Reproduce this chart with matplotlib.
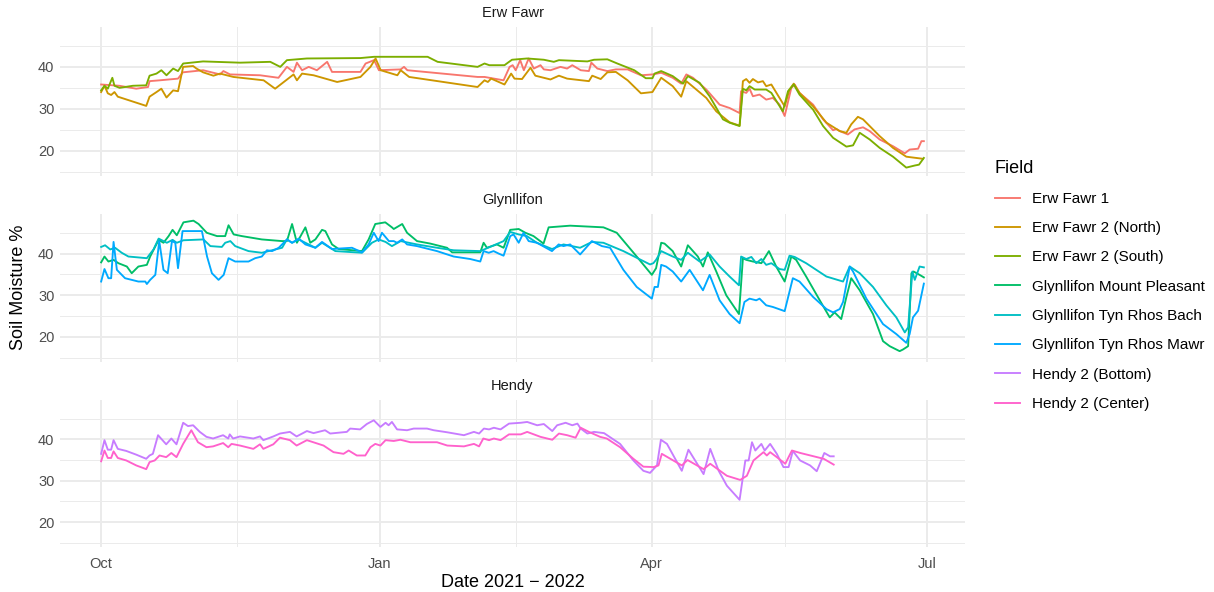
import numpy as np
import matplotlib
matplotlib.use('Agg')
import matplotlib.pyplot as plt
import matplotlib.dates as mdates
from datetime import datetime

# soil moisture readings: (days after 1 Oct 2021, moisture %)
erw_fawr_1 = [(0,35.8),(6,35.5),(11.6,34.8),(15.5,35.2),(16,36.6),(19.4,36.8),(25.4,37.2),(27,38.7),(33.7,39.2),(39.3,38.2),(40.4,39),(42.6,38.2),(52.5,38),(58.6,37.4),(61.4,40),(63.6,38.8),(64.7,41),(66.4,39.2),(68.6,40),(71.3,39.2),(74.7,41.2),(76.3,38.8),(85.7,38.8),(87.4,40.8),(90.2,41.6),(91.8,39.2),(99,39.4),(100.1,40),(101.2,39.2),(124.4,37.6),(126.7,37.6),(133,36.8),(135,40),(136,40.4),(137,39.2),(138.5,41.6),(139.7,39.2),(141.3,42),(143,39.6),(145.2,40.4),(146.3,39.4),(148.5,39.2),(151.8,40),(154,39.6),(155.7,40.4),(158.5,39.2),(161.2,39),(162,41),(164,39.6),(167.3,39),(170.1,39.4),(174,39.4),(178.4,38),(182.3,38.2),(185.1,38.6),(188.9,37.4),(191.7,36),(193.4,38.2),(195.6,37.4),(200,34.6),(204.4,31),(207.7,30.2),(211,29),(211.5,34.2),(213.2,33.8),(214.3,34.8),(215.4,33),(217.6,33.4),(219.8,32.2),(222,32.6),(224.2,31),(225.9,28.3),(228.1,35),(229.2,35.8),(230.8,33.8),(235.3,31),(238.6,27.5),(241.9,24.9),(243,25.2),(244.1,24.7),(246.8,23.9),(249,25.1),(251.8,25.6),(254,24.7),(257.3,22.7),(261.7,21.1),(265.6,19.4),(267.2,20.3),(270,20.5),(271.1,22.3),(271.9,22.3)]
erw_fawr_2n = [(0,34),(1.1,35.5),(2.2,33.7),(3.3,33.3),(4.4,34),(5.5,32.9),(14.9,30.7),(16,32.9),(18.3,34),(19.9,34.8),(21.6,32.7),(23.8,34.4),(25.4,34.2),(27.1,40),(30.4,40.2),(31.5,39.6),(33.7,38.7),(37.1,37.9),(39.3,38.4),(43.7,37.6),(53.7,36.8),(57.5,34.8),(63.6,38.2),(64.7,36.8),(66.4,38.4),(70.2,38),(78,36.4),(85.7,37.6),(89,40),(90.7,42),(92.4,39.2),(97.9,38),(99,39.2),(101.8,37.6),(124.4,35.2),(126.7,36.8),(127.8,36.4),(128.9,37.2),(133.3,35.8),(135.5,38.4),(136.6,37.2),(139.1,37.1),(141.9,39.8),(143.5,37.9),(148.5,37),(151.3,37.9),(154,37.2),(161.2,36.6),(162.3,37.9),(165.1,37.1),(167.3,38.7),(170.1,38.8),(174,36.8),(178.4,33.7),(182.2,34),(185.1,37.4),(188.9,35.4),(191.7,32.9),(193.4,36.6),(200,32.6),(203.3,29.4),(207.7,26.8),(211,26),(212.1,36.6),(213.2,37.1),(214.3,36.2),(215.4,37.1),(217.1,36.3),(218.7,36.6),(219.8,35.4),(221.5,35.8),(224.2,32.6),(225.9,30.6),(227.5,34.6),(228.9,36),(230.8,33.8),(235.3,30.6),(239.7,26.7),(244.1,24.7),(246.3,24.3),(247.9,26.3),(250.1,28.1),(251.8,27.5),(254,25.9),(257.3,23.5),(261.7,20.7),(266.1,18.6),(271.6,18.1)]
erw_fawr_2s = [(0,34.4),(1.1,35.5),(2.2,34.8),(3.7,37.4),(4.4,35.5),(6.1,35),(10.5,35.5),(14.9,35.6),(16,37.9),(18.3,38.4),(19.9,39.2),(21.6,38),(23.8,39.6),(25.4,39),(27.1,40.8),(33.7,41.3),(45.9,41),(55.9,41.2),(59.2,40),(61.4,41.6),(68,42),(85.7,42.1),(90.2,42.4),(96.8,42.4),(107.9,42.4),(111.2,41.2),(124.4,40),(126.7,40.8),(128.3,40.4),(133.3,40.4),(135,41.3),(135.8,41.7),(140.8,42),(146.3,41.7),(149.6,41.2),(151.3,41.6),(160.7,41.3),(162.9,41.7),(167.3,41.8),(170.6,40.8),(176.2,39.2),(180,37.3),(182.2,37.3),(182.9,38.4),(185.1,39),(188.9,37.8),(192.3,36),(193.9,37.8),(197.8,36.2),(201.1,33),(205.5,27.5),(207.7,26.7),(211,25.9),(212.1,34.8),(213.2,34.4),(214.3,35.4),(216,34.6),(219.8,34.6),(221.5,33.8),(225.3,29.4),(227,34.2),(228.9,35.8),(230.8,33.4),(235.3,29.8),(238.6,25.9),(241.9,23.1),(246.3,21),(248.5,21.3),(250.7,24.3),(254,22.7),(257.3,20.7),(261.7,18.6),(266.1,16),(268.9,16.5),(270.3,16.7),(271.9,18.3)]
glyn_mount_pleasant = [(0,37.9),(1.1,39.3),(2.4,38.1),(4.1,38.5),(5.7,37.7),(8.5,36.9),(10.1,35.3),(12.3,36.9),(15.1,37.3),(16.2,39.3),(19,43.3),(20.6,42.6),(22.3,44.2),(23.6,45.7),(25,44.4),(27.2,47.5),(30.5,47.9),(32.2,47.1),(34.9,45),(38.3,44.2),(41,44.2),(42.1,46.8),(43.8,44.6),(46.5,44.2),(53.1,43.4),(59.8,43),(61.4,43),(63.1,47.1),(64.7,42.6),(67.5,46.3),(69.1,42.6),(70.8,43.4),(73,45.7),(74.1,45.4),(76.3,42.2),(78.5,41.1),(86.2,40.6),(88.4,43.4),(90.6,47.1),(93.9,47.5),(96.1,46.3),(96.7,45.9),(99.5,47.1),(101.1,45),(104.4,43),(108.8,42.4),(114.3,41.4),(116,40.3),(125.3,40.3),(126.4,42.6),(127.5,41.4),(130.8,42.2),(133,41.4),(135.2,45.7),(138,45.9),(140.2,45),(142.9,44.2),(146.2,42.4),(147.9,46.3),(155,46.7),(166,46.3),(170.4,45),(177,39.3),(182,34.9),(183.4,36.5),(185.1,42.6),(186.2,42.4),(188.9,40.6),(191.7,36.9),(193.9,42),(197.2,39.3),(198.9,36.9),(200.5,40.3),(203.3,35.7),(206.6,30),(210.8,25.5),(212.1,38.9),(213.2,38.5),(215.4,38.1),(218.2,37.7),(220.7,40.6),(223.1,36.9),(225.9,33.3),(228.1,39.3),(229.7,38.5),(233,34.5),(237.5,28.8),(240.8,24.7),(242.4,25.9),(244.6,24.3),(246.3,29.6),(247.9,34.1),(250.7,31.2),(255.1,25.5),(258.4,19),(260.6,17.8),(263.9,16.6),(265,17),(266.7,17.8),(267.8,35.3),(268.5,35.7),(270.5,34.9),(271.9,34.3)]
glyn_rhos_bach = [(0,41.6),(1.3,42),(3,41),(4.6,41.4),(6.8,40.2),(9,39.3),(15.1,38.9),(17.3,41),(19,43.6),(21.7,42.6),(23.6,43.3),(25,42.6),(27.2,43.2),(33.8,43.4),(36.1,41.8),(39.9,41.6),(41,42.6),(42.7,43),(44.3,41.8),(48.7,40.6),(53.1,40.2),(59.8,41.4),(61.4,43.4),(63.1,42.6),(65.3,43.4),(67.5,42.6),(70.8,41.4),(73,42.6),(77.4,40.6),(86.2,40.2),(89.5,42.6),(91.7,43.4),(94,42.8),(96.1,41.8),(99,43),(104.4,42.2),(111,41.4),(116.5,40.8),(125.3,40.6),(133,43),(135.2,45.2),(138,44.6),(140.7,44.2),(144,42.6),(149,41.1),(152.8,42.2),(158.3,41.4),(162.2,42.8),(166,42.6),(172.6,40.6),(177,39),(181.4,37.4),(182.5,37.7),(183.4,38.5),(185.1,40.6),(188.9,39.3),(191.7,38.5),(193.9,40.2),(197.8,38.1),(201.1,39.8),(204.4,36.9),(207.7,34.5),(210.8,32.4),(211.5,39.3),(213.2,38.7),(214.9,39.2),(216.5,37.7),(218.2,38.7),(219.8,37.3),(221.5,37.7),(224.2,36.3),(225.9,36.1),(227.5,39.5),(229.2,39.2),(233,37.7),(239.7,34.5),(245.2,33.3),(247.4,36.9),(250.7,35.3),(255.1,32),(259.5,27.6),(262.8,24.7),(265.6,21.1),(266.7,22.3),(268.1,35.7),(268.9,33.7),(270.5,36.9),(271.9,36.7)]
glyn_rhos_mawr = [(0,33.3),(1.1,36.3),(2.4,34.1),(3.3,34.1),(4.1,42.8),(5.2,36.1),(7.9,34.1),(10.1,33.7),(12.3,33.3),(14.6,33.3),(15.1,32.7),(16.2,33.7),(17.9,34.9),(19.2,43),(20.6,36.1),(22,35.3),(23.4,43),(24.5,42.6),(25.4,36.5),(26.9,45.4),(33.3,45.4),(35,39.3),(36.6,35.3),(38.8,33.7),(40.5,34.9),(42.1,38.9),(44.3,38.1),(46.5,38.1),(48.7,38.1),(50.9,38.9),(53.1,39.3),(54.8,40.8),(56.5,40.6),(58.7,41.4),(61.4,43.4),(63.1,42.6),(65.3,43.6),(67.5,42.2),(70.8,41.4),(73,42.8),(76.3,41.1),(82.9,41.4),(86.2,40.3),(88.4,42.2),(90.1,45),(91.7,43),(92.8,45),(95.1,43),(96.7,43),(97.8,42.6),(99.5,43.4),(101.1,42.2),(104.4,41.8),(111,40.6),(116.5,39.3),(122,38.7),(125.3,38.1),(126.4,40.6),(128.1,40.2),(129.7,40.6),(131.4,40),(133,39.5),(135.2,44.2),(136.3,44.6),(138,42.6),(139.6,45),(141.3,43),(144,42.6),(149,40.6),(151.2,42.2),(152.8,41.8),(155,42.2),(158.3,39.8),(162.2,43),(165.5,41.8),(168.2,41.4),(172.6,36.1),(177,32),(182,29.2),(182.9,32),(184,32),(185.1,37.3),(186.7,36.9),(188.9,35.7),(191.7,33.3),(194.5,36.1),(198.9,31.2),(201.1,34.9),(204.4,28.8),(207.7,25.5),(211,23.3),(212.6,28.4),(214.3,29.2),(216.5,28.8),(217.6,29.2),(219.8,27.6),(222,27.2),(225.9,26.2),(228.6,34.1),(230.8,33.3),(235.3,29.6),(239.7,26.7),(241.9,25.9),(244.1,26.7),(245.2,28.4),(247.4,36.9),(248.5,35.7),(252.9,29.2),(258.4,23.1),(262.8,20.7),(266.1,18.6),(267.2,20.7),(268.3,24.7),(270,26.3),(271.9,32.8)]
hendy_bottom = [(0,36.5),(1.1,39.8),(2.2,37.5),(3.3,37.5),(4.1,39.8),(5.5,37.7),(8.3,37.2),(11.6,36.3),(14.9,35.3),(16,36.1),(17.1,36.5),(18.8,41),(21.5,38.8),(23.2,40.2),(24.9,38.8),(27.1,44),(28.7,43.2),(30.4,43.4),(32.6,41.8),(34.8,40.6),(37,40.2),(40.3,41),(42,40.2),(42.5,41.2),(43.6,40.2),(45.9,40.7),(50.3,40.2),(52.5,40.7),(53.6,39.8),(56.9,40.7),(59.1,41.4),(62.4,41.8),(64.6,40.7),(68,42),(70.2,41.5),(74,42.2),(75.7,41.4),(81.2,41.8),(82.3,42.6),(85.6,42.4),(87.8,43.7),(90.1,44.6),(92.3,43),(94,44),(95,43.4),(96.1,44.2),(97.8,42.4),(101.1,42.2),(103.3,42.6),(107.7,42.6),(109.9,42.2),(114.4,41.7),(119.9,41),(123.2,41.8),(124.9,41.4),(126.5,42.6),(128.2,42.4),(129.8,42.8),(132,42.4),(134.8,43.8),(138.7,44),(140.8,44.2),(144.1,43.4),(146.3,43.7),(149.1,42),(150.7,43.4),(153.5,44),(155.7,43.4),(157.4,43.8),(158.5,42.6),(160.7,41.4),(162.9,41.8),(166.2,41.5),(171.5,38.9),(175.9,34.9),(179.2,32.4),(181.4,31.9),(183.7,33.7),(185,39.9),(187,38.9),(191.9,32.4),(194.1,37.5),(199.1,31.6),(201.3,37.7),(204.1,32.4),(206.8,28.8),(211,25.4),(212.9,34.9),(214,34.9),(215.1,39.3),(216.2,37.3),(218.2,38.9),(219.3,37.3),(221.1,38.9),(223.3,36.5),(225.5,33.3),(227.2,33.3),(228.6,37.2),(231,34.9),(234.3,33.7),(236.5,32.3),(239,36.7),(240.9,35.9),(242.1,35.9)]
hendy_center = [(0,34.7),(1.1,37.3),(2.2,35.5),(3.3,35.5),(4.1,37.1),(5.5,35.5),(8.3,34.9),(11.6,33.7),(14.9,32.8),(16,34.5),(17.7,34.9),(19.3,36.1),(21.5,35.7),(23.2,36.7),(24.9,35.7),(27.1,38.9),(29.8,42.2),(32,39.3),(34.8,38.1),(37,38.3),(40.3,39.1),(42,38.1),(43.1,38.9),(45.9,38.5),(50.3,37.7),(52.5,38.8),(53.6,37.7),(56.9,38.8),(59.1,40.4),(62.4,39.8),(64.6,38.5),(68,39.8),(73.5,38.5),(76.8,36.9),(80.1,36.5),(81.8,37.3),(84.5,36.1),(87.3,36.1),(89,38.1),(90.6,38.9),(92.3,38.5),(94,39.8),(96.7,39.6),(98.9,39.9),(102.2,39.3),(111,39.3),(114.4,38.5),(119.9,38.3),(123.2,38.9),(124.9,38.3),(126.3,40.2),(128.2,39.8),(129.8,40.2),(132,39.8),(134.8,41.2),(138.7,41.2),(140.8,41.8),(145.2,40.6),(149.1,39.9),(151.3,41.4),(154,41),(156.8,40.4),(158.5,42.8),(161.2,41.8),(164.9,40.6),(167.1,40.2),(171.5,38.1),(175.9,35.3),(179.2,33.4),(182.6,33.3),(184.2,33.7),(185.3,36.5),(191.9,33.7),(193.8,35),(199.1,32.8),(201.3,34.1),(206.8,31.2),(211.2,30.2),(213.4,31.2),(215.6,34.9),(218.9,36.9),(220,36.1),(221.1,36.9),(223.3,35.7),(226.1,34.1),(228.3,37.3),(231.1,36.7),(235.5,35.9),(238.8,35.3),(242.1,33.9)]

field_names = ['Erw Fawr 1', 'Erw Fawr 2 (North)', 'Erw Fawr 2 (South)',
               'Glynllifon Mount Pleasant', 'Glynllifon Tyn Rhos Bach',
               'Glynllifon Tyn Rhos Mawr', 'Hendy 2 (Bottom)', 'Hendy 2 (Center)']
field_data = [erw_fawr_1, erw_fawr_2n, erw_fawr_2s, glyn_mount_pleasant,
              glyn_rhos_bach, glyn_rhos_mawr, hendy_bottom, hendy_center]
field_site = [0, 0, 0, 1, 1, 1, 2, 2]
site_names = ['Erw Fawr', 'Glynllifon', 'Hendy']
colors = ['#F8766D', '#CD9600', '#7CAE00', '#00BE67', '#00BFC4', '#00A9FF', '#C77CFF', '#FF61CC']

plt.rcParams['font.family'] = ['Liberation Sans', 'DejaVu Sans']

W, H = 1214, 592
fig = plt.figure(figsize=(W / 100, H / 100), dpi=100)

base = mdates.date2num(datetime(2021, 10, 1))
grid_col = '#EBEBEB'

# panel boxes in pixels: (top, bottom)
panel_px = [(27, 176), (214, 362), (400, 547)]
left_px, right_px = 60, 965

axes = []
for i, (top, bot) in enumerate(panel_px):
    ax = fig.add_axes([left_px / W, 1 - bot / H, (right_px - left_px) / W, (bot - top) / H])
    axes.append(ax)

handles = []
for name, data, site, col in zip(field_names, field_data, field_site, colors):
    days = np.array([d for d, v in data])
    vals = np.array([v for d, v in data])
    ln, = axes[site].plot(base + days, vals, color=col, lw=1.35, solid_joinstyle='round')
    handles.append(ln)

for i, ax in enumerate(axes):
    ax.xaxis_date()
    ax.set_xlim(base - 13.6, base + 285.5)
    ax.set_ylim(14.0, 49.5)
    ax.set_yticks([20, 30, 40])
    ax.set_yticks([15, 25, 35, 45], minor=True)
    ax.xaxis.set_major_locator(mdates.MonthLocator(bymonth=[1, 4, 7, 10]))
    ax.xaxis.set_major_formatter(mdates.DateFormatter('%b'))
    ax.xaxis.set_minor_locator(mdates.MonthLocator(bymonth=[2, 5, 11], bymonthday=15))
    ax.grid(True, which='major', color=grid_col, lw=1.4)
    ax.grid(True, which='minor', color=grid_col, lw=0.7)
    ax.set_axisbelow(True)
    for s in ax.spines.values():
        s.set_visible(False)
    ax.tick_params(which='both', length=0, labelsize=10.5, labelcolor='#4D4D4D')
    ax.tick_params(axis='y', pad=4)
    ax.tick_params(axis='x', pad=7)
    if i < 2:
        ax.tick_params(axis='x', labelbottom=False)
    ax.set_title(site_names[i], fontsize=10.5, color='#1A1A1A', pad=7)

axes[2].set_xlabel('Date 2021 \u2212 2022', fontsize=13, color='black', labelpad=2.5)
fig.text(19 / W, 1 - 287 / H, 'Soil Moisture %', rotation=90, fontsize=13,
         ha='center', va='center')

fig.legend(handles, field_names, title='Field', loc='upper left',
           bbox_to_anchor=(987 / W, 1 - 152 / H), frameon=False, fontsize=11,
           title_fontsize=13, alignment='left', borderpad=0,
           handlelength=1.65, handletextpad=0.8, labelspacing=1.0)

fig.savefig('out.png', dpi=100)
